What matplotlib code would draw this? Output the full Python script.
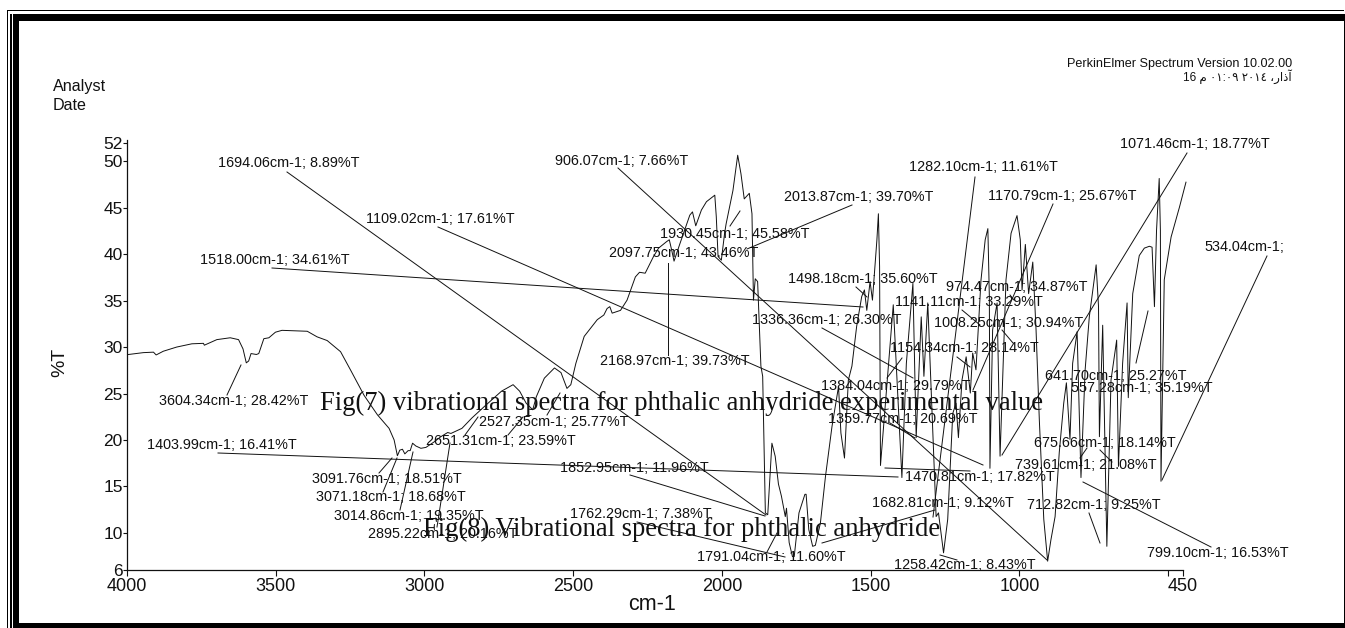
import matplotlib
matplotlib.use("Agg")
import matplotlib.pyplot as plt
from matplotlib.lines import Line2D
from matplotlib.patches import Rectangle
from matplotlib.transforms import Affine2D

W, H = 1345, 628

# Spectrum
wavenumber = [3995, 3945, 3911, 3902, 3878, 3833, 3782, 3743, 3740, 3698, 3653, 3625, 3610, 3599, 3591, 3583,
              3565, 3557, 3540, 3523, 3501, 3479, 3394, 3361, 3327, 3282, 3248, 3203, 3158, 3119, 3102, 3091,
              3083, 3074, 3066, 3055, 3048, 3040, 3029, 3012, 2995, 2967, 2945, 2922, 2911, 2874, 2841, 2797,
              2741, 2702, 2680, 2658, 2636, 2624, 2597, 2563, 2541, 2521, 2508, 2491, 2463, 2419, 2397, 2386,
              2377, 2369, 2341, 2319, 2291, 2277, 2258, 2230, 2213, 2186, 2177, 2169, 2161, 2141, 2108, 2099,
              2088, 2069, 2052, 2024, 2019, 2013, 2002, 1991, 1986, 1963, 1947, 1936, 1925, 1908, 1899, 1894,
              1888, 1880, 1869, 1863, 1854, 1846, 1832, 1821, 1810, 1800, 1787, 1783, 1774, 1763, 1757, 1741,
              1721, 1717, 1708, 1695, 1686, 1669, 1652, 1630, 1608, 1600, 1588, 1575, 1563, 1547, 1530, 1521,
              1513, 1502, 1494, 1479, 1474, 1470, 1467, 1442, 1424, 1395, 1380, 1358, 1347, 1330, 1321, 1308,
              1280, 1272, 1255, 1241, 1224, 1213, 1205, 1193, 1179, 1165, 1157, 1146, 1129, 1115, 1106, 1101,
              1099, 1090, 1075, 1065, 1045, 1028, 1008, 997, 991, 980, 969, 955, 944, 933, 918, 905, 894, 880,
              866, 851, 842, 830, 821, 806, 793, 779, 765, 742, 734, 731, 720, 706, 692, 673, 667, 653, 638,
              634, 619, 597, 580, 563, 554, 546, 539, 530, 526, 524, 513, 490, 462, 440]
transmittance = [29.2, 29.4, 29.45, 29.15, 29.55, 30.0, 30.35, 30.4, 30.2, 30.8, 31.0, 30.8, 29.8, 28.3, 28.5, 29.3,
                 29.2, 29.3, 30.9, 31.0, 31.6, 31.8, 31.7, 31.1, 30.7, 29.5, 27.5, 24.8, 22.7, 21.25, 20.0, 18.3,
                 18.9, 19.0, 18.5, 18.85, 18.85, 19.65, 19.35, 19.1, 19.2, 19.8, 20.35, 20.8, 20.7, 21.25, 22.35, 23.65,
                 25.25, 25.95, 25.25, 23.95, 23.25, 24.65, 26.65, 27.75, 27.25, 25.55, 25.95, 28.25, 31.15, 32.95, 33.45, 34.15,
                 34.35, 33.65, 33.95, 35.05, 37.55, 38.05, 37.95, 39.75, 40.65, 41.35, 41.55, 40.45, 39.25, 41.15, 44.2, 44.55,
                 43.05, 44.75, 45.65, 46.35, 44.05, 39.75, 39.35, 42.25, 43.25, 46.85, 50.65, 48.65, 45.95, 46.55, 44.35, 35.05,
                 37.35, 37.05, 27.95, 26.85, 12.15, 11.95, 19.65, 18.25, 15.25, 13.95, 11.75, 12.65, 8.95, 7.45, 7.45, 12.15,
                 14.15, 14.15, 10.35, 8.55, 8.65, 11.05, 16.05, 21.45, 25.75, 20.75, 18.05, 26.45, 27.95, 32.25, 35.45, 36.15,
                 33.95, 37.05, 35.05, 41.55, 44.35, 38.65, 17.25, 27.25, 34.55, 15.95, 28.25, 36.85, 20.25, 33.25, 26.85, 34.75,
                 11.75, 12.15, 7.85, 11.45, 22.85, 23.95, 20.25, 26.45, 28.95, 25.05, 29.35, 27.55, 37.25, 41.55, 42.75, 35.45,
                 16.95, 31.85, 34.75, 18.25, 37.25, 42.25, 44.15, 41.55, 36.15, 41.05, 35.75, 39.15, 31.85, 22.15, 11.45, 6.95, 9.25, 11.75,
                 18.65, 23.95, 26.15, 20.05, 28.25, 31.65, 15.95, 27.55, 33.25, 38.85, 34.35, 20.35, 32.35, 8.55, 26.45, 30.75, 17.15, 28.25, 34.75,
                 24.55, 35.75, 39.85, 40.65, 40.85, 40.75, 34.35, 42.55, 48.15, 42.55, 15.55, 37.25, 41.85, 45.05, 47.75]

x_ticks = [4000, 3500, 3000, 2500, 2000, 1500, 1000, 500, 450]
x_tick_labels = ["4000", "3500", "3000", "2500", "2000", "1500", "1000", "", "450"]
y_ticks = [6, 10, 15, 20, 25, 30, 35, 40, 45, 50, 52]

peak_labels = [
    "1694.06cm-1; 8.89%T", "1109.02cm-1; 17.61%T", "1518.00cm-1; 34.61%T", "906.07cm-1; 7.66%T",
    "2013.87cm-1; 39.70%T", "1930.45cm-1; 45.58%T", "2097.75cm-1; 43.46%T", "2168.97cm-1; 39.73%T",
    "1498.18cm-1; 35.60%T", "1336.36cm-1; 26.30%T", "1141.11cm-1; 33.29%T", "974.47cm-1; 34.87%T",
    "1008.25cm-1; 30.94%T", "1154.34cm-1; 28.14%T", "1282.10cm-1; 11.61%T", "1170.79cm-1; 25.67%T",
    "1071.46cm-1; 18.77%T", "534.04cm-1;", "1384.04cm-1; 29.79%T", "1359.77cm-1; 20.69%T",
    "641.70cm-1; 25.27%T", "557.28cm-1; 35.19%T", "675.66cm-1; 18.14%T", "739.61cm-1; 21.08%T",
    "712.82cm-1; 9.25%T", "799.10cm-1; 16.53%T", "1470.81cm-1; 17.82%T", "1403.99cm-1; 16.41%T",
    "1852.95cm-1; 11.96%T", "1762.29cm-1; 7.38%T", "1791.04cm-1; 11.60%T", "1682.81cm-1; 9.12%T",
    "1258.42cm-1; 8.43%T", "3604.34cm-1; 28.42%T", "2527.35cm-1; 25.77%T", "2651.31cm-1; 23.59%T",
    "3091.76cm-1; 18.51%T", "3071.18cm-1; 18.68%T", "3014.86cm-1; 19.35%T", "2895.22cm-1; 20.16%T",
]

# Layout of the annotations, in picture pixels
label_places = [
    (218, 163), (366, 219), (200, 260), (555, 161), (784, 197), (660, 234), (609, 253), (600, 361),
    (788, 279), (752, 320), (895, 302), (946, 287), (934, 323), (890, 348), (909, 167), (988, 196),
    (1120, 144), (1204, 247), (821, 386), (828, 419), (1045, 376), (1071, 388), (1034, 443), (1015, 465),
    (1027, 505), (1147, 553), (905, 477), (147, 445), (560, 468), (570, 514), (697, 557), (872, 503),
    (894, 565), (159, 401), (479, 422), (426, 441), (312, 479), (316, 497), (334, 516), (368, 534),
]
leaders = [
    (287, 172, 766, 515), (438, 227, 983, 465), (272, 268, 863, 307), (618, 168, 1047, 560),
    (852, 205, 747, 249), (740, 211, 730, 226), (668, 263, 668, 355), (856, 287, 867, 297),
    (822, 328, 913, 378), (962, 310, 980, 325), (1010, 295, 1014, 300), (1002, 330, 1013, 343),
    (957, 357, 970, 367), (975, 177, 933, 517), (1053, 204, 973, 390), (1187, 153, 1002, 455),
    (1267, 256, 1162, 480), (902, 358, 887, 378), (890, 423, 915, 438), (1148, 311, 1136, 363),
    (1100, 450, 1112, 462), (1087, 448, 1080, 458), (1089, 513, 1100, 543), (1211, 547, 1083, 482),
    (885, 468, 970, 471), (218, 453, 898, 477), (630, 475, 765, 516), (637, 522, 785, 557),
    (767, 552, 777, 533), (822, 543, 935, 510), (940, 555, 957, 560), (227, 395, 241, 365),
    (547, 415, 560, 393), (508, 435, 523, 417), (465, 435, 478, 417), (379, 473, 392, 458),
    (383, 492, 397, 458), (400, 510, 413, 452), (437, 527, 450, 443),
]

plt.rcParams["font.family"] = ["Liberation Sans", "DejaVu Sans"]
INK = "#111111"

fig = plt.figure(figsize=(W / 100, H / 100), dpi=100, facecolor="white")
px = Affine2D().scale(1 / W, -1 / H).translate(0, 1) + fig.transFigure

ax = fig.add_axes([127 / W, (H - 570) / H, (1183 - 127) / W, (570 - 140) / H], facecolor="none")
ax.plot(wavenumber, transmittance, color=INK, lw=0.7, clip_on=False)
ax.set_xlim(4000, 450)
ax.set_ylim(6, 52.29)
ax.set_xticks(x_ticks, x_tick_labels, fontsize=13)
ax.set_yticks(y_ticks, [str(v) for v in y_ticks], fontsize=12.5)
ax.tick_params(axis="x", length=4, width=0.8, pad=2, color=INK, labelcolor=INK)
ax.tick_params(axis="y", length=3, width=0.8, pad=0, color=INK, labelcolor=INK)
for side in ("top", "right"):
    ax.spines[side].set_visible(False)
for side in ("left", "bottom"):
    ax.spines[side].set_color(INK)
    ax.spines[side].set_linewidth(0.9)
ax.text(60, 362, "%T", transform=px, rotation=90, ha="center", va="center", fontsize=14, color=INK)
ax.text(652, 604, "cm-1", transform=px, ha="center", va="center", fontsize=15.5, color=INK)


def add_text(x, y, s, **kw):
    kw.setdefault("color", INK)
    kw.setdefault("va", "center")
    fig.text(x, y, s, transform=px, **kw)


add_text(53, 86, "Analyst", fontsize=11.6)
add_text(53, 105, "Date", fontsize=11.6)
add_text(1292, 64, "PerkinElmer Spectrum Version 10.02.00", fontsize=9.1, ha="right")
add_text(1292, 77, "16 م ٠١:٠٩ ٢٠١٤ ،راذآ", fontsize=8.5, ha="right")

for (x0, y0, x1, y1) in leaders:
    fig.add_artist(Line2D([x0, x1], [y0, y1], transform=px, color=INK, lw=0.7))
for (x, y), s in zip(label_places, peak_labels):
    add_text(x, y, s, fontsize=10.4)

add_text(320, 403, "Fig(7) vibrational spectra for phthalic anhydride experimental value",
         fontsize=19.15, family="Liberation Serif", color="#111111")
add_text(423, 529, "Fig(8) Vibrational spectra for phthalic anhydride",
         fontsize=19.15, family="Liberation Serif", color="#111111")

# Picture frame
for (x, y, w, h) in [(7, 9.5, 1337, 1.5), (7, 9.5, 1.4, 618.5), (10, 14, 1.5, 614),
                     (12.5, 14, 1332, 7), (12.5, 14, 6, 614), (12.5, 622.5, 1332, 5.5),
                     (1343.5, 14, 1, 614)]:
    fig.add_artist(Rectangle((x, y), w, h, transform=px, facecolor="black", edgecolor="none"))

fig.savefig("out.png", dpi=100)
